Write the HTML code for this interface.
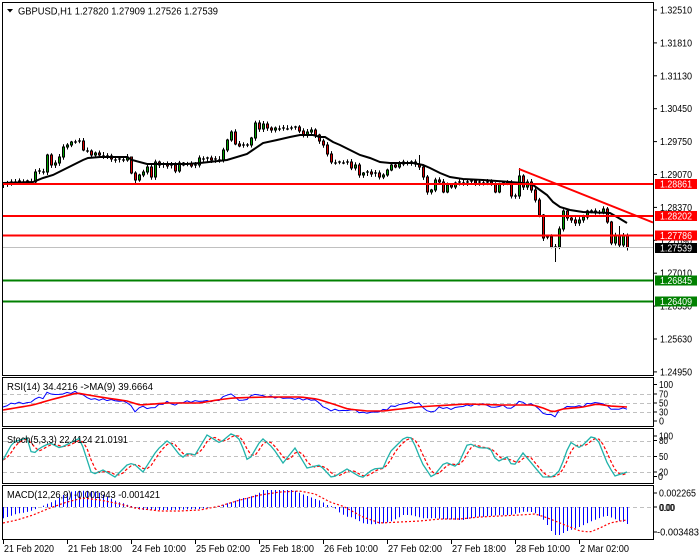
<!DOCTYPE html>
<html><head><meta charset="utf-8">
<style>
html,body{margin:0;padding:0;background:#fff;}
svg{display:block;}
text{font-family:"Liberation Sans",sans-serif;font-size:10px;fill:#000;}
</style></head>
<body>
<svg id="c" width="700" height="560" xmlns="http://www.w3.org/2000/svg">
<rect width="700" height="560" fill="#fff"/>
<g id="plot"></g>
<!-- panel borders -->
<g fill="none" stroke="#000" stroke-width="1">
<rect x="2.5" y="2.5" width="651" height="373"/>
<rect x="2.5" y="377.5" width="651" height="49"/>
<rect x="2.5" y="428.5" width="651" height="55"/>
<rect x="2.5" y="485.5" width="651" height="54"/>
</g>
<g id="ticks" stroke="#000" stroke-width="1"></g>
<!-- title -->
<polygon points="7,9 13,9 10,12.5" fill="#000"/>
<text x="18" y="14.5" textLength="200" lengthAdjust="spacingAndGlyphs">GBPUSD,H1  1.27820 1.27909 1.27526 1.27539</text>
<text x="7" y="390" textLength="146" lengthAdjust="spacingAndGlyphs">RSI(14) 34.4216  -&gt;MA(9) 39.6664</text>
<text x="7" y="443" textLength="121" lengthAdjust="spacingAndGlyphs">Stoch(5,3,3) 22.4124 21.0191</text>
<text x="7" y="498" textLength="153" lengthAdjust="spacingAndGlyphs">MACD(12,26,9) -0.001943 -0.001421</text>
<!-- main axis labels -->
<g>
<text x="660" y="13.5" textLength="32" lengthAdjust="spacingAndGlyphs">1.32510</text>
<text x="660" y="46.4" textLength="32" lengthAdjust="spacingAndGlyphs">1.31810</text>
<text x="660" y="79.3" textLength="32" lengthAdjust="spacingAndGlyphs">1.31130</text>
<text x="660" y="112.2" textLength="32" lengthAdjust="spacingAndGlyphs">1.30450</text>
<text x="660" y="145.1" textLength="32" lengthAdjust="spacingAndGlyphs">1.29750</text>
<text x="660" y="178" textLength="32" lengthAdjust="spacingAndGlyphs">1.29070</text>
<text x="660" y="210.9" textLength="32" lengthAdjust="spacingAndGlyphs">1.28370</text>
<text x="660" y="243.8" textLength="32" lengthAdjust="spacingAndGlyphs">1.27690</text>
<text x="660" y="276.7" textLength="32" lengthAdjust="spacingAndGlyphs">1.27010</text>
<text x="660" y="309.6" textLength="32" lengthAdjust="spacingAndGlyphs">1.26330</text>
<text x="660" y="342.5" textLength="32" lengthAdjust="spacingAndGlyphs">1.25630</text>
<text x="660" y="375.4" textLength="32" lengthAdjust="spacingAndGlyphs">1.24950</text>
</g>
<!-- price boxes -->
<rect x="655" y="179" width="42" height="10" fill="#ff0000"/>
<rect x="655" y="211" width="42" height="10" fill="#ff0000"/>
<rect x="655" y="230.5" width="42" height="10" fill="#ff0000"/>
<rect x="655" y="243" width="42" height="10" fill="#000"/>
<rect x="655" y="275.5" width="42" height="10" fill="#008000"/>
<rect x="655" y="296.5" width="42" height="10" fill="#008000"/>
<g style="fill:#fff">
<text x="660" y="187.5" textLength="32" lengthAdjust="spacingAndGlyphs" style="fill:#fff">1.28861</text>
<text x="660" y="219.5" textLength="32" lengthAdjust="spacingAndGlyphs" style="fill:#fff">1.28202</text>
<text x="660" y="239" textLength="32" lengthAdjust="spacingAndGlyphs" style="fill:#fff">1.27786</text>
<text x="660" y="251.5" textLength="32" lengthAdjust="spacingAndGlyphs" style="fill:#fff">1.27539</text>
<text x="660" y="284" textLength="32" lengthAdjust="spacingAndGlyphs" style="fill:#fff">1.26845</text>
<text x="660" y="305" textLength="32" lengthAdjust="spacingAndGlyphs" style="fill:#fff">1.26409</text>
</g>
<!-- RSI axis -->
<text x="659" y="388" textLength="14" lengthAdjust="spacingAndGlyphs">100</text>
<text x="659" y="397.5" textLength="9" lengthAdjust="spacingAndGlyphs">70</text>
<text x="659" y="406.5" textLength="9" lengthAdjust="spacingAndGlyphs">50</text>
<text x="659" y="415.5" textLength="9" lengthAdjust="spacingAndGlyphs">30</text>
<text x="659" y="424.5" textLength="5" lengthAdjust="spacingAndGlyphs">0</text>
<!-- Stoch axis -->
<text x="659" y="439.5" textLength="14" lengthAdjust="spacingAndGlyphs">100</text>
<text x="659" y="444" textLength="9" lengthAdjust="spacingAndGlyphs">80</text>
<text x="659" y="460" textLength="9" lengthAdjust="spacingAndGlyphs">50</text>
<text x="659" y="475.5" textLength="9" lengthAdjust="spacingAndGlyphs">20</text>
<text x="658" y="480" textLength="5" lengthAdjust="spacingAndGlyphs">0</text>
<!-- MACD axis -->
<text x="659" y="496.5" textLength="37" lengthAdjust="spacingAndGlyphs">0.002265</text>
<text x="659" y="511" textLength="15" lengthAdjust="spacingAndGlyphs">0.00</text>
<text x="660" y="511" textLength="15" lengthAdjust="spacingAndGlyphs">0.00</text>
<text x="657" y="535.5" textLength="42" lengthAdjust="spacingAndGlyphs">-0.003483</text>
<!-- time axis -->
<text x="4" y="552" textLength="50" lengthAdjust="spacingAndGlyphs">21 Feb 2020</text>
<text x="68" y="552" textLength="54" lengthAdjust="spacingAndGlyphs">21 Feb 18:00</text>
<text x="132" y="552" textLength="54" lengthAdjust="spacingAndGlyphs">24 Feb 10:00</text>
<text x="196" y="552" textLength="54" lengthAdjust="spacingAndGlyphs">25 Feb 02:00</text>
<text x="260" y="552" textLength="54" lengthAdjust="spacingAndGlyphs">25 Feb 18:00</text>
<text x="324" y="552" textLength="54" lengthAdjust="spacingAndGlyphs">26 Feb 10:00</text>
<text x="388" y="552" textLength="54" lengthAdjust="spacingAndGlyphs">27 Feb 02:00</text>
<text x="452" y="552" textLength="54" lengthAdjust="spacingAndGlyphs">27 Feb 18:00</text>
<text x="516" y="552" textLength="54" lengthAdjust="spacingAndGlyphs">28 Feb 10:00</text>
<text x="580" y="552" textLength="49" lengthAdjust="spacingAndGlyphs">2 Mar 02:00</text>
</svg>
<script>
(function(){
const S='http://www.w3.org/2000/svg';
const plot=document.getElementById('plot');
const ticks=document.getElementById('ticks');
function E(t,a,p){const e=document.createElementNS(S,t);for(const k in a)e.setAttribute(k,a[k]);(p||plot).appendChild(e);return e;}
function I(k,x){if(x<=k[0][0])return k[0][1];for(let j=1;j<k.length;j++){if(x<=k[j][0]){const a=k[j-1],b=k[j];return a[1]+(b[1]-a[1])*(x-a[0])/(b[0]-a[0]);}}return k[k.length-1][1];}
function poly(pts,attrs){E('polyline',Object.assign({points:pts.map(p=>p[0]+','+p[1].toFixed(2)).join(' '),fill:'none'},attrs));}
const N=157, X=i=>3+4*i;

// grid
const grid=[394.5,403.5,412.5,441.5,456.5,472.5,507.5];
grid.forEach(y=>E('line',{x1:3,x2:653,y1:y,y2:y,stroke:'#c0c0c0','stroke-width':1,'stroke-dasharray':'4,3'}));

// ticks on right axis
[10,42.9,75.8,108.7,141.6,174.5,207.4,240.3,273.2,306.1,339,371.9,384.5,394,403,412,421,436,440.5,456.5,472,476.5,493,507,532].forEach(y=>{
 E('line',{x1:654,x2:657,y1:y,y2:y},ticks);
});
for(let t=3;t<=579;t+=64){E('line',{x1:t+.5,x2:t+.5,y1:540,y2:544},ticks);}

// price closes
const ck=[[3,184],[7,183],[11,182],[15,182],[19,181],[23,182],[27,181],[31,182],[35,172],[39,171],[43,172],[47,155],[51,165],[55,163],[59,157],[63,147],[67,145],[71,142],[75,142],[79,141],[83,150],[87,151],[91,155],[95,153],[99,155],[103,156],[107,156],[111,159],[115,160],[119,159],[123,160],[127,157],[131,173],[135,180],[139,175],[143,172],[147,167],[151,177],[155,162],[159,165],[163,164],[167,166],[171,165],[175,171],[179,163],[183,165],[187,164],[191,166],[195,165],[199,158],[203,159],[207,158],[211,160],[215,159],[219,160],[223,150],[227,140],[231,132],[235,144],[239,146],[243,145],[247,145],[251,138],[255,123],[259,129],[263,124],[267,128],[271,130],[275,128],[279,129],[283,128],[287,129],[291,128],[295,127],[299,131],[303,135],[307,132],[311,130],[315,135],[319,141],[323,145],[327,154],[331,162],[335,163],[339,162],[343,163],[347,162],[351,168],[355,165],[359,175],[363,173],[367,172],[371,174],[375,173],[379,177],[383,175],[387,170],[391,165],[395,167],[399,164],[403,162],[407,163],[411,162],[415,164],[419,167],[423,177],[427,192],[431,190],[435,180],[439,182],[443,192],[447,185],[451,187],[455,183],[459,182],[463,183],[467,182],[471,181],[475,183],[479,182],[483,183],[487,182],[491,184],[495,192],[499,184],[503,183],[507,183],[511,196],[515,196],[519,176],[523,187],[527,182],[531,190],[535,200],[539,215],[543,238],[547,237],[551,247],[555,247],[559,229],[563,211],[567,218],[571,220],[575,223],[579,220],[583,217],[587,211],[591,211],[595,213],[599,213],[603,209],[607,222],[611,243],[615,235],[619,245],[623,236],[627,247.5]];

let prev=185;
for(let i=0;i<N;i++){
 const x=X(i); const c=I(ck,x); let o=prev; prev=c;
 let hi=Math.min(o,c)-1-2*Math.abs(Math.sin(i*3.7));
 let lo=Math.max(o,c)+1+2*Math.abs(Math.cos(i*2.9));
 if(x===555)lo=262; if(x===519)hi=168; if(x===135)lo=183; if(x===131)hi=157;
 if(x===47)lo=175; if(x===543)lo=241; if(x===419)hi=155; if(x===619)hi=226;
 E('line',{x1:x+.5,x2:x+.5,y1:hi.toFixed(1),y2:lo.toFixed(1),stroke:'#000','stroke-width':1});
 const top=Math.min(o,c), bot=Math.max(o,c);
 if(bot-top<1.5){E('line',{x1:x-1,x2:x+2,y1:c,y2:c,stroke:'#000','stroke-width':1.2});}
 else E('rect',{x:x-0.5,y:top.toFixed(1),width:2,height:(bot-top).toFixed(1),fill:c<o?'#00a000':'#e00000',stroke:'#000','stroke-width':1});
}

// MA line
const ma=[[3,183],[33,182],[43,178],[53,175],[63,170],[73,165],[83,160],[88,158],[100,157],[127,157],[132,160],[147,164],[167,164],[187,164],[200,163],[227,160],[247,154],[263,143],[277,140],[290,137],[300,135],[313,135],[320,137],[325,137],[333,142],[340,145],[350,150],[360,155],[370,158],[380,162],[390,163],[413,163],[423,165],[430,168],[440,173],[450,177],[463,179],[483,180],[510,182],[523,183],[533,185],[540,190],[547,195],[553,202],[560,207],[570,210],[583,212],[610,213],[617,217],[627,223]];
poly(ma,{stroke:'#000','stroke-width':2});

// horizontal lines
[[184,'#ff0000'],[216,'#ff0000'],[235.5,'#ff0000'],[280.5,'#008000'],[301.5,'#008000']].forEach(l=>E('line',{x1:3,x2:653,y1:l[0],y2:l[0],stroke:l[1],'stroke-width':2}));
E('line',{x1:3,x2:653,y1:247.5,y2:247.5,stroke:'#c0c0c0','stroke-width':1});
E('line',{x1:519,y1:169,x2:653,y2:222.5,stroke:'#ff0000','stroke-width':2});

// RSI
const rsi=[[3,407],[13,403],[30,403],[37,397],[42,399],[48,392],[55,395],[67,393],[77,392],[90,399],[110,400],[127,402],[135,411],[143,406],[148,409],[152,408],[167,402],[175,405],[182,402],[200,401],[217,401],[230,393],[237,399],[243,401],[255,394],[263,396],[283,398],[300,399],[315,400],[328,410],[337,410],[348,411],[350,409],[363,413],[377,412],[387,409],[390,407],[403,404],[410,402],[420,404],[428,412],[433,412],[440,407],[450,409],[463,406],[483,404],[495,408],[500,405],[512,409],[519,401],[525,404],[535,405],[542,413],[555,416],[560,410],[565,407],[583,406],[590,403],[602,403],[610,408],[615,410],[620,408],[627,409]];
const rsiMa=[[3,410],[33,405],[50,400],[77,393],[100,397],[127,401],[140,405],[167,403],[200,403],[217,400],[233,398],[267,397],[300,397],[317,399],[330,403],[348,409],[367,411],[383,411],[400,409],[417,407],[433,406],[467,404],[500,405],[533,405],[543,408],[553,412],[563,409],[583,407],[597,404],[610,406],[627,407]];
let rp=[];for(let i=0;i<N;i++){const x=X(i);rp.push([x,I(rsi,x)+0.9*Math.sin(i*2.7)]);}
poly(rp,{stroke:'#0000ff','stroke-width':1});
let rm=[];for(let i=0;i<N;i++){const x=X(i);rm.push([x,I(rsiMa,x)]);}
poly(rm,{stroke:'#ff0000','stroke-width':1.6});

// Stoch
const st=[[3,460],[13,442],[27,438],[32,455],[40,448],[50,443],[60,448],[80,438],[92,475],[103,470],[115,477],[127,465],[133,463],[143,472],[157,450],[168,440],[182,458],[188,453],[195,455],[207,435],[220,443],[232,433],[240,440],[248,462],[262,438],[273,448],[283,463],[295,448],[307,468],[320,465],[332,478],[347,469],[362,478],[373,469],[383,468],[390,452],[405,437],[412,438],[422,463],[432,478],[445,462],[457,467],[468,443],[480,448],[490,448],[497,462],[507,457],[513,467],[523,453],[543,477],[553,477],[560,470],[570,442],[580,448],[592,436],[598,440],[608,465],[615,476],[627,472]];
let sp=[],ss=[];
for(let i=0;i<N;i++){const x=X(i);sp.push([x,I(st,x)]);ss.push([x,(I(st,x)+I(st,x-4)+I(st,x-8))/3]);}
poly(ss,{stroke:'#ff0000','stroke-width':1.2,'stroke-dasharray':'3,2'});
poly(sp,{stroke:'#20b2aa','stroke-width':1.3});

// MACD
const mh=[[3,518.3],[8,516.7],[13,515],[18,513.3],[23,512.7],[28,511.7],[33,510],[42,506],[48,503.3],[53,501.7],[58,498.3],[63,495],[70,491.7],[77,490.7],[87,490.7],[97,491.7],[103,495],[110,498.3],[117,501.7],[123,503.3],[128,505],[133,506.7],[140,510],[150,510],[170,510],[200,509],[210,507],[220,506],[227,503.3],[233,501.7],[240,498.3],[247,497.7],[257,494],[263,490],[293,490],[300,493.3],[307,496],[313,498.3],[320,500.7],[327,505],[333,506.7],[340,513.3],[347,516.7],[350,516.7],[357,520],[363,523.3],[370,524.3],[377,524],[383,523.3],[390,521.7],[397,518.3],[403,515],[410,515],[417,516.7],[423,518.3],[430,518.3],[437,518.3],[443,519.3],[450,519.3],[457,520],[463,520],[470,518.3],[477,516.7],[483,516.7],[490,516],[497,515.3],[503,515.3],[510,515],[517,513.3],[523,511.7],[530,511.7],[535,513.3],[540,516.7],[545,521.7],[550,530],[555,535],[560,535],[565,531.7],[570,530],[575,528.3],[580,526.7],[585,524],[590,521.7],[597,519],[602,516.7],[607,516],[613,518.3],[618,520.7],[623,521.7],[627,524]];
for(let i=0;i<N;i++){const x=X(i);const y=I(mh,x);if(Math.abs(y-507)>0.6)E('line',{x1:x+.5,x2:x+.5,y1:507,y2:y.toFixed(1),stroke:'#0000ff','stroke-width':1});}
const ms=[[3,523],[17,520],[33,515],[50,508],[67,502],[83,498],[100,500],[120,504],[135,508],[160,511],[180,511],[200,510],[220,506],[240,500],[260,495],[280,492],[300,491],[315,494],[330,502],[345,507],[350,510],[363,517],[380,523],[400,522],[420,521],[440,519],[460,519],[480,517],[500,516],[520,515],[535,514],[545,517],[555,521],[570,527],[580,531],[590,532],[600,528],[610,523],[620,521],[627,520]];
let mp=[];for(let i=0;i<N;i++){const x=X(i);mp.push([x,I(ms,x)]);}
poly(mp,{stroke:'#ff0000','stroke-width':1.2,'stroke-dasharray':'2,2'});
})();
</script>
</body></html>
